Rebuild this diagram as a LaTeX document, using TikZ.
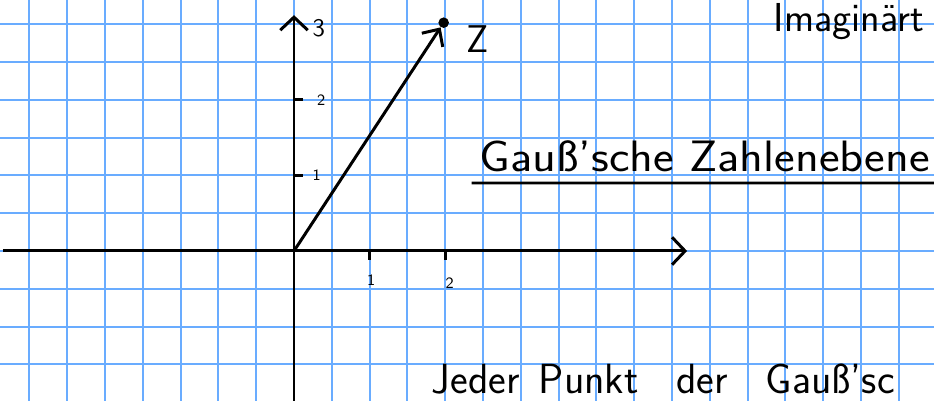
\documentclass[tikz,border=0pt]{standalone}
\usepackage{fontspec}
\usepackage{tikz}
\usetikzlibrary{arrows.meta,positioning,calc}
\usepackage{xcolor}
\definecolor{gridblue}{RGB}{105,172,255}
\tikzset{
  gzgrid/.style={draw=gridblue, line width=1.1pt},
  gzaxis/.style={line width=1.7pt, -{Straight Barb[length=2.6mm, width=5.5mm, line width=1.7pt]}},
  gzvec/.style={line width=1.7pt, -{Straight Barb[length=2.6mm, width=5mm, line width=1.7pt]}},
  gztick/.style={line width=1.5pt},
  gzdot/.style={circle, fill=black, inner sep=0pt, minimum size=6pt},
  gzlabel/.style={font=\sffamily\small, inner sep=1pt},
  gztext/.style={font=\sffamily\fontsize{25}{30}\selectfont, inner sep=0pt, anchor=base west},
}

\begin{document}
\begin{tikzpicture}[x=1.512cm, y=1.512cm]
  \useasboundingbox (-3.889,-1.984) rectangle (8.466,3.320);
  \clip (-3.889,-1.984) rectangle (8.466,3.320);

  % grid paper
  \draw[gzgrid, step=0.5] (-4,-2.5) grid (8.5,3.5);

  % axes
  \coordinate (o) at (0,0);
  \coordinate (xstart) at (-3.85,0);
  \coordinate (xend) at (5.2,0);
  \coordinate (ystart) at (0,-2.1);
  \coordinate (yend) at (0,3.12);
  \draw[gzaxis] (xstart) -- (xend);
  \draw[gzaxis] (ystart) -- (yend);

  % ticks
  \coordinate (tx1) at (1,0);
  \coordinate (tx2) at (2,0);
  \coordinate (ty1) at (0,1);
  \coordinate (ty2) at (0,2);
  \draw[gztick] (tx1) -- ++(0,-0.12);
  \draw[gztick] (tx2) -- ++(0,-0.12);
  \draw[gztick] (ty1) -- ++(0.12,0);
  \draw[gztick] (ty2) -- ++(0.12,0);
  \node[gzlabel] (lx1) at (1.02,-0.38) {1};
  \node[gzlabel] (lx2) at (2.06,-0.42) {2};
  \node[gzlabel] (ly1) at (0.3,1.0) {1};
  \node[gzlabel] (ly2) at (0.36,2.0) {2};
  \node[gzlabel, font=\sffamily\Large] (ly3) at (0.33,2.95) {3};

  % the number z
  \node[gzdot] (z) at (1.98,3.02) {};
  \draw[gzvec] (o) -- (z);
  \node[font=\sffamily\fontsize{22}{26}\selectfont, inner sep=0pt] (zl) at (2.43,2.8) {Z};

  % notes
  \node[gztext, font=\sffamily\fontsize{23}{27}\selectfont] (imag) at (6.34,2.9) {Imaginärt};
  \node[gztext] (gauss) at (2.45,1.05) {\scalebox{1.12}[1]{Gauß'sche Zahlenebene}};
  \coordinate (ulend) at (8.5,0.9);
  \draw[gztick] ($(gauss.base west)+(-0.1,-0.15)$) -- (ulend);
  \node[gztext, font=\sffamily\fontsize{24}{28}\selectfont] (jeder) at (1.82,-1.88)
    {Jeder\hspace{0.45em}Punkt\hspace{0.9em}der\hspace{0.9em}Gauß'sc};
\end{tikzpicture}
\end{document}
